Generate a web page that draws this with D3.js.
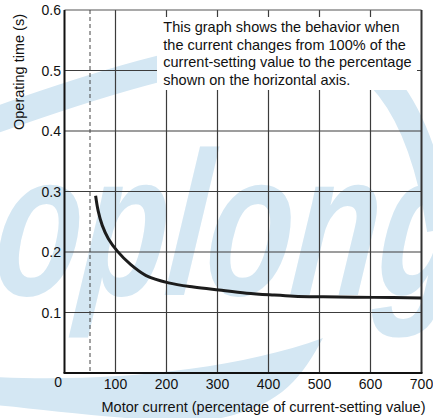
<!DOCTYPE html>
<html>
<head>
<meta charset="utf-8">
<script src="https://cdn.jsdelivr.net/npm/d3@7"></script>
<style>
  html, body { margin: 0; padding: 0; background: #fff; }
  svg { display: block; font-family: "Liberation Sans", Arial, Helvetica, sans-serif; }
</style>
</head>
<body>
<div id="chart"></div>
<script>
// 数据：电机电流(%) 与 动作时间(s)
const currentPct = [61, 66, 74, 86, 104, 130, 160, 204, 253, 303, 357, 407, 450, 507, 607, 700];
const opTime = [0.293, 0.268, 0.244, 0.222, 0.201, 0.179, 0.161, 0.149, 0.142, 0.137, 0.132, 0.129, 0.127, 0.126, 0.125, 0.124];
const xTicks = [0, 100, 200, 300, 400, 500, 600, 700];
const yTicks = [0.1, 0.2, 0.3, 0.4, 0.5, 0.6];
const dashedAt = 50;
const noteLines = [
  "This graph shows the behavior when",
  "the current changes from 100% of the",
  "current-setting value to the percentage",
  "shown on the horizontal axis."
];

const width = 433;
const height = 418;
const margin = { top: 10, right: 11.5, bottom: 45, left: 64.5 };

const svg = d3.select("#chart")
  .append("svg")
  .attr("width", width)
  .attr("height", height);

svg.append("rect").attr("width", width).attr("height", height).attr("fill", "#fff");

// 水印（浅蓝色）
const wm = svg.append("g").attr("fill", "#d4e7f3").attr("stroke", "none");
wm.append("path")
  .attr("d", "M -10,122 C 80,90 200,50 300,45 C 370,42 420,100 440,230")
  .attr("fill", "none")
  .attr("stroke", "#d4e7f3")
  .attr("stroke-width", 26);
wm.append("path")
  .attr("d", "M -5,377 C 100,382 230,372 323,338 C 300,380 280,410 200,422 C 120,420 50,410 -5,405 Z");
wm.append("text")
  .attr("transform", "translate(-10,295) skewX(-6)")
  .attr("font-size", 205)
  .attr("font-weight", "bold")
  .attr("font-style", "italic")
  .attr("textLength", 470)
  .attr("lengthAdjust", "spacingAndGlyphs")
  .text("oplong");

// 比例尺
const x = d3.scaleLinear().domain([0, 700]).range([margin.left, width - margin.right]);
const y = d3.scaleLinear().domain([0, 0.6]).range([height - margin.bottom, margin.top]);

// 网格线
svg.append("g")
  .selectAll("line")
  .data(xTicks.slice(1, -1))
  .enter()
  .append("line")
  .attr("x1", d => x(d)).attr("x2", d => x(d))
  .attr("y1", y(0.6)).attr("y2", y(0))
  .attr("stroke", "#3c3c3c")
  .attr("stroke-width", 1.2);

svg.append("g")
  .selectAll("line")
  .data(yTicks.slice(0, -1))
  .enter()
  .append("line")
  .attr("x1", x(0)).attr("x2", x(700))
  .attr("y1", d => y(d)).attr("y2", d => y(d))
  .attr("stroke", "#3c3c3c")
  .attr("stroke-width", 1.2);

// 说明文字背景
svg.append("rect")
  .attr("x", 157).attr("y", 17)
  .attr("width", 260).attr("height", 73)
  .attr("fill", "#fff");

svg.append("text")
  .attr("font-size", 14.5)
  .attr("fill", "#111")
  .selectAll("tspan")
  .data(noteLines)
  .enter()
  .append("tspan")
  .attr("x", 163.3)
  .attr("y", (d, i) => 32.3 + i * 17.5)
  .text(d => d);

// 边框
svg.append("line").attr("x1", x(0)).attr("x2", x(700)).attr("y1", y(0.6)).attr("y2", y(0.6))
  .attr("stroke", "#555").attr("stroke-width", 1.2);
svg.append("line").attr("x1", x(700)).attr("x2", x(700)).attr("y1", y(0.6)).attr("y2", y(0))
  .attr("stroke", "#333").attr("stroke-width", 2);
svg.append("line").attr("x1", x(0)).attr("x2", x(0)).attr("y1", y(0.6)).attr("y2", y(0))
  .attr("stroke", "#111").attr("stroke-width", 2);
svg.append("line").attr("x1", x(0) - 1).attr("x2", x(700) + 1).attr("y1", y(0)).attr("y2", y(0))
  .attr("stroke", "#111").attr("stroke-width", 2);

// 虚线
svg.append("line")
  .attr("x1", x(dashedAt)).attr("x2", x(dashedAt))
  .attr("y1", y(0.6)).attr("y2", y(0))
  .attr("stroke", "#444")
  .attr("stroke-width", 1)
  .attr("stroke-dasharray", "4,3");

// 曲线
const data = currentPct.map((c, i) => ({ c: c, t: opTime[i] }));
svg.append("path")
  .datum(data)
  .attr("fill", "none")
  .attr("stroke", "#1c1c1c")
  .attr("stroke-width", 3)
  .attr("d", d3.line().x(d => x(d.c)).y(d => y(d.t)).curve(d3.curveCatmullRom.alpha(0.5)));

// 刻度标签
svg.append("g")
  .selectAll("text")
  .data(xTicks.slice(1))
  .enter()
  .append("text")
  .attr("x", d => x(d))
  .attr("y", 389)
  .attr("text-anchor", "middle")
  .attr("font-size", 14)
  .attr("fill", "#111")
  .text(d => d);

svg.append("text")
  .attr("x", 62).attr("y", 387)
  .attr("text-anchor", "end")
  .attr("font-size", 14)
  .attr("fill", "#111")
  .text("0");

svg.append("g")
  .selectAll("text")
  .data(yTicks)
  .enter()
  .append("text")
  .attr("x", 61)
  .attr("y", d => y(d))
  .attr("dy", "0.36em")
  .attr("text-anchor", "end")
  .attr("font-size", 14)
  .attr("fill", "#111")
  .text(d => d.toFixed(1));

// 轴标题
svg.append("text")
  .attr("x", 263.5).attr("y", 411.5)
  .attr("text-anchor", "middle")
  .attr("font-size", 14.5)
  .attr("fill", "#111")
  .text("Motor current (percentage of current-setting value)");

svg.append("text")
  .attr("transform", "translate(23.5,72) rotate(-90)")
  .attr("text-anchor", "middle")
  .attr("font-size", 14.5)
  .attr("fill", "#111")
  .text("Operating time (s)");
</script>
</body>
</html>
